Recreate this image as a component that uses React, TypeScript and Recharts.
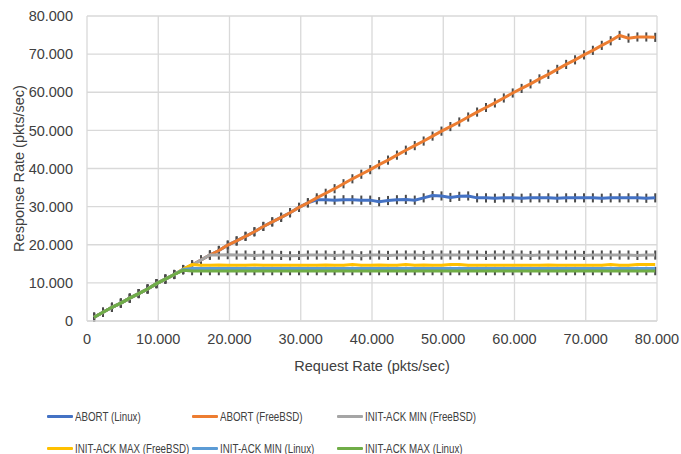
import React from "react";
import { LineChart, Line, XAxis, YAxis, CartesianGrid, ErrorBar } from "recharts";

const requestRate = [
  1000, 2250, 3500, 4750, 6000, 7250, 8500, 9750,
  11000, 12250, 13500, 14750, 16000, 17250, 18500, 19750,
  21000, 22250, 23500, 24750, 26000, 27250, 28500, 29750,
  31000, 32250, 33500, 34750, 36000, 37250, 38500, 39750,
  41000, 42250, 43500, 44750, 46000, 47250, 48500, 49750,
  51000, 52250, 53500, 54750, 56000, 57250, 58500, 59750,
  61000, 62250, 63500, 64750, 66000, 67250, 68500, 69750,
  71000, 72250, 73500, 74750, 76000, 77250, 78500, 79750,
];

const abortFreeBSD = [
  1000, 2300, 3600, 4700, 6000, 7200, 8400, 9800,
  11000, 12200, 13500, 14700, 16000, 17300, 18500, 19900,
  21000, 22200, 23400, 24800, 26000, 27200, 28400, 29800,
  31000, 32300, 33500, 34700, 36000, 37300, 38500, 39700,
  41000, 42200, 43500, 44800, 46000, 47200, 48500, 49800,
  51000, 52200, 53500, 54800, 56000, 57200, 58500, 59800,
  61000, 62200, 63500, 64700, 66000, 67300, 68500, 69800,
  71000, 72300, 73500, 74900, 74200, 74500, 74500, 74400,
];

const abortLinux = [
  1000, 2300, 3600, 4700, 6000, 7200, 8400, 9800,
  11000, 12200, 13500, 14700, 16000, 17300, 18500, 19900,
  21000, 22200, 23400, 24800, 26000, 27200, 28400, 29800,
  31000, 31800, 31800, 31700, 31800, 31800, 31700, 31700,
  31300, 31600, 31800, 31900, 31700, 32300, 32900, 32800,
  32400, 32700, 32800, 32300, 32300, 32200, 32300, 32300,
  32200, 32300, 32300, 32300, 32200, 32300, 32300, 32300,
  32300, 32200, 32300, 32300, 32300, 32300, 32200, 32300,
];

const initAckMinFreeBSD = [
  1000, 2300, 3600, 4700, 6000, 7200, 8400, 9800,
  11000, 12200, 13500, 14700, 16000, 17300, 17300, 17400,
  17300, 17300, 17200, 17300, 17300, 17200, 17100, 17200,
  17300, 17300, 17300, 17200, 17300, 17300, 17100, 17300,
  17300, 17200, 17300, 17300, 17300, 17200, 17300, 17300,
  17300, 17300, 17300, 17300, 17200, 17300, 17300, 17300,
  17300, 17200, 17300, 17300, 17300, 17300, 17300, 17200,
  17300, 17300, 17300, 17300, 17300, 17200, 17300, 17300,
];

const initAckMaxFreeBSD = [
  1000, 2300, 3600, 4700, 6000, 7200, 8400, 9800,
  11000, 12200, 13600, 14800, 14600, 14600, 14700, 14600,
  14600, 14600, 14700, 14600, 14600, 14600, 14600, 14600,
  14600, 14600, 14700, 14600, 14600, 14800, 14600, 14600,
  14700, 14600, 14600, 14800, 14600, 14700, 14600, 14600,
  14800, 14800, 14600, 14600, 14600, 14600, 14600, 14600,
  14600, 14600, 14600, 14700, 14600, 14600, 14600, 14600,
  14600, 14600, 14800, 14600, 14600, 14800, 14800, 14800,
];

const initAckMinLinux = [
  1000, 2300, 3600, 4700, 6000, 7200, 8400, 9800,
  11000, 12200, 13500, 13800, 13800, 13800, 13800, 13800,
  13800, 13800, 13800, 13800, 13800, 13800, 13800, 13800,
  13800, 13800, 13800, 13800, 13800, 13800, 13800, 13800,
  13800, 13800, 13800, 13800, 13800, 13800, 13800, 13800,
  13800, 13800, 13800, 13800, 13800, 13800, 13800, 13800,
  13800, 13800, 13800, 13800, 13800, 13800, 13800, 13800,
  13800, 13800, 13800, 13800, 13800, 13800, 13800, 13800,
];

const initAckMaxLinux = [
  1000, 2300, 3600, 4700, 6000, 7200, 8400, 9800,
  11000, 12200, 13300, 13100, 13100, 13100, 13100, 13100,
  13100, 13100, 13100, 13100, 13100, 13100, 13100, 13100,
  13100, 13100, 13100, 13100, 13100, 13100, 13100, 13100,
  13100, 13100, 13100, 13100, 13100, 13100, 13100, 13100,
  13100, 13100, 13100, 13100, 13100, 13100, 13100, 13100,
  13100, 13100, 13100, 13100, 13100, 13100, 13100, 13100,
  13100, 13100, 13100, 13100, 13100, 13100, 13100, 13100,
];

// error half-ranges per series (pkts/sec)
const errAbortLinux = 1200;
const errAbortFreeBSD = 1200;
const errInitAckMinFreeBSD = 1200;
const errInitAckMaxFreeBSD = 0;
const errInitAckMinLinux = 0;
const errInitAckMaxLinux = 1100;

const xTicks = [0, 10000, 20000, 30000, 40000, 50000, 60000, 70000, 80000];
const yTicks = [0, 10000, 20000, 30000, 40000, 50000, 60000, 70000, 80000];

const series = [
  { key: "al", name: "ABORT (Linux)", values: abortLinux, err: errAbortLinux, color: "#4472C4" },
  { key: "af", name: "ABORT (FreeBSD)", values: abortFreeBSD, err: errAbortFreeBSD, color: "#ED7D31" },
  { key: "gmin", name: "INIT-ACK MIN (FreeBSD)", values: initAckMinFreeBSD, err: errInitAckMinFreeBSD, color: "#A5A5A5" },
  { key: "gmax", name: "INIT-ACK MAX (FreeBSD)", values: initAckMaxFreeBSD, err: errInitAckMaxFreeBSD, color: "#FFC000" },
  { key: "lmin", name: "INIT-ACK MIN (Linux)", values: initAckMinLinux, err: errInitAckMinLinux, color: "#5B9BD5" },
  { key: "lmax", name: "INIT-ACK MAX (Linux)", values: initAckMaxLinux, err: errInitAckMaxLinux, color: "#70AD47" },
];

const data = requestRate.map((x, i) => {
  const row: Record<string, number> = { x };
  series.forEach((s) => {
    row[s.key] = s.values[i];
    row[s.key + "_e"] = s.err;
  });
  return row;
});

const FONT = "'Liberation Sans', Arial, sans-serif";
const TEXT = "#404040";

const fmt = (v: number) => String(v).replace(/\B(?=(\d{3})+(?!\d))/g, ".");

const legendCols = [47, 192, 337];
const legendRows = [416, 448];

export default function App() {
  return (
    <div style={{ position: "absolute", left: 0, top: 0, width: 681, height: 454, background: "#fff", fontFamily: FONT }}>
      <LineChart width={681} height={454} data={data} margin={{ top: 16, right: 24, bottom: 73, left: 0 }}>
        <CartesianGrid stroke="#d9d9d9" strokeWidth={1.3} vertical horizontal />
        <XAxis
          type="number"
          dataKey="x"
          domain={[0, 80000]}
          ticks={xTicks}
          allowDataOverflow
          height={60}
          tickLine={false}
          axisLine={{ stroke: "#d9d9d9", strokeWidth: 1.3 }}
          tickMargin={7}
          tickFormatter={fmt}
          tick={{ fill: TEXT, fontSize: 14.5, fontFamily: FONT }}
          label={{
            content: (p: any) => {
              const vb = p.viewBox;
              return (
                <text x={vb.x + vb.width / 2} y={vb.y + 45} textAnchor="middle" dominantBaseline="central" fill={TEXT} fontSize={14.5} fontFamily={FONT}>
                  Request Rate (pkts/sec)
                </text>
              );
            },
          }}
        />
        <YAxis
          type="number"
          domain={[0, 80000]}
          ticks={yTicks}
          allowDataOverflow
          width={87}
          tickLine={false}
          axisLine={false}
          tickMargin={8}
          tickFormatter={fmt}
          tick={{ fill: TEXT, fontSize: 14.5, fontFamily: FONT }}
          label={{
            content: (p: any) => {
              const vb = p.viewBox;
              const cx = vb.x + 19;
              const cy = vb.y + vb.height / 2;
              return (
                <text x={cx} y={cy} transform={`rotate(-90 ${cx} ${cy})`} textAnchor="middle" dominantBaseline="central" fill={TEXT} fontSize={14.5} fontFamily={FONT}>
                  Response Rate (pkts/sec)
                </text>
              );
            },
          }}
        />
        {series.map((s) => (
          <Line
            key={s.key + "_eb"}
            dataKey={s.key}
            stroke="none"
            dot={false}
            activeDot={false}
            legendType="none"
            isAnimationActive={false}
          >
            <ErrorBar dataKey={s.key + "_e"} width={0} stroke="#4a4a4a" strokeWidth={2} direction="y" isAnimationActive={false} />
          </Line>
        ))}
        {series.map((s) => (
          <Line
            key={s.key}
            dataKey={s.key}
            name={s.name}
            stroke={s.color}
            strokeWidth={3}
            dot={false}
            activeDot={false}
            type="linear"
            isAnimationActive={false}
          />
        ))}
      </LineChart>
      {series.map((s, i) => {
        const left = legendCols[i % 3];
        const top = legendRows[Math.floor(i / 3)];
        return (
          <div key={s.key} style={{ position: "absolute", left, top: top - 10, height: 20, display: "flex", alignItems: "center", whiteSpace: "nowrap" }}>
            <div style={{ width: 26, height: 3, background: s.color, borderRadius: 1, flex: "none" }} />
            <span style={{ display: "inline-block", marginLeft: 2, fontSize: 13, color: TEXT, fontFamily: FONT, transform: "scaleX(0.75)", transformOrigin: "left center" }}>{s.name}</span>
          </div>
        );
      })}
    </div>
  );
}
